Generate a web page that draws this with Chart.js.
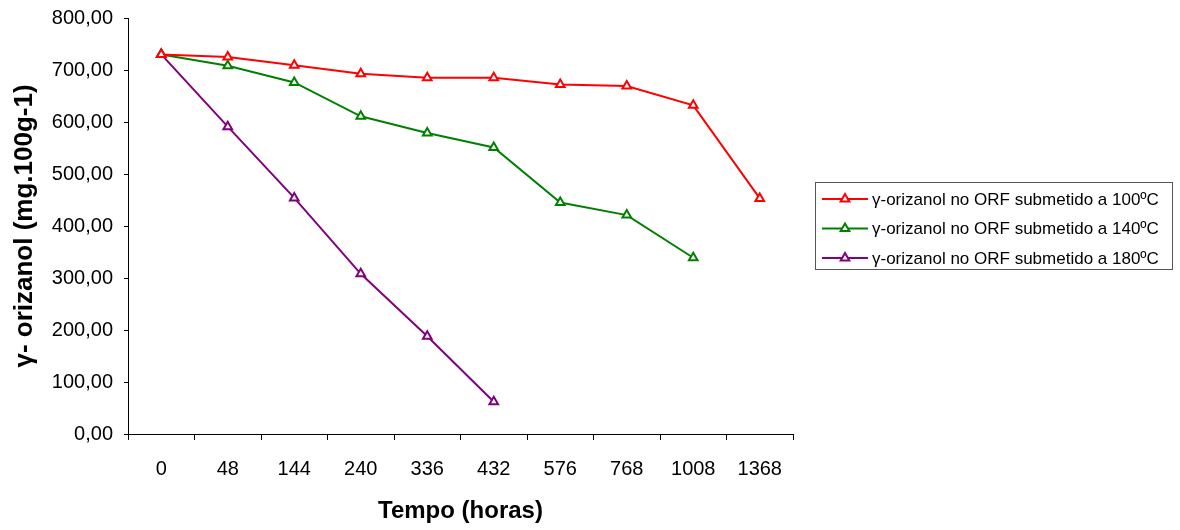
<!DOCTYPE html>
<html>
<head>
<meta charset="utf-8">
<script src="https://cdn.jsdelivr.net/npm/chart.js@4"></script>
<style>
  body { margin: 0; background: #fff; }
</style>
</head>
<body>
<canvas id="chart" width="1180" height="530"></canvas>
<script>
'use strict';
// hours
let categories = ['0', '48', '144', '240', '336', '432', '576', '768', '1008', '1368'];
let temp100 = [730, 725, 709, 693, 685, 685, 672, 669, 632, 453];
let temp140 = [730, 708, 676, 611, 579, 551, 445, 421, 339];
let temp180 = [730, 591, 454, 308, 188, 62];
let seriesNames = [
  'γ-orizanol no ORF submetido a 100ºC',
  'γ-orizanol no ORF submetido a 140ºC',
  'γ-orizanol no ORF submetido a 180ºC'
];
let seriesColors = ['#ff0000', '#008000', '#800080'];
let yTicks = [0, 100, 200, 300, 400, 500, 600, 700, 800];

const FONT = '"Liberation Sans", Arial, sans-serif';

function makeSet( i, values ) {
  return {
    label: seriesNames[i],
    data: values,
    borderColor: seriesColors[i],
    backgroundColor: '#ffffff',
    borderWidth: 2,
    pointStyle: 'triangle',
    pointRadius: 5,
    pointBorderWidth: 2,
    pointBackgroundColor: '#ffffff',
    pointBorderColor: seriesColors[i],
    tension: 0
  };
}

// legend box on the right, drawn by hand
const boxLegend = {
  id: 'boxLegend',
  afterDraw( chart ) {
    const ctx = chart.ctx;
    ctx.save();
    ctx.strokeStyle = '#555';
    ctx.lineWidth = 1;
    ctx.strokeRect( 815.5, 182.5, 357, 87 );
    ctx.font = '17px ' + FONT;
    ctx.textBaseline = 'middle';
    ctx.fillStyle = '#000';
    chart.data.datasets.forEach( ( ds, i ) => {
      let y = 199 + i * 29.5;
      ctx.strokeStyle = ds.borderColor;
      ctx.lineWidth = 2;
      ctx.beginPath();
      ctx.moveTo( 822, y );
      ctx.lineTo( 868, y );
      ctx.stroke();
      ctx.fillStyle = '#fff';
      Chart.helpers.drawPoint( ctx, { pointStyle: 'triangle', radius: 5, rotation: 0, borderWidth: 2 }, 845, y );
      ctx.fillStyle = '#000';
      ctx.fillText( ds.label, 872, y + 1 );
    } );
    ctx.restore();
  }
};

new Chart( document.getElementById( 'chart' ), {
  type: 'line',
  data: {
    labels: categories,
    datasets: [makeSet( 0, temp100 ), makeSet( 1, temp140 ), makeSet( 2, temp180 )]
  },
  options: {
    responsive: false,
    animation: false,
    layout: { padding: { top: 18, right: 387, bottom: 0, left: 0 } },
    plugins: {
      legend: { display: false },
      tooltip: { enabled: false }
    },
    scales: {
      x: {
        type: 'category',
        offset: true,
        grid: { offset: true, drawOnChartArea: false, drawTicks: true, tickLength: 6, color: '#000' },
        border: { color: '#000', width: 1 },
        ticks: { color: '#000', padding: 17, font: { family: FONT, size: 20 }, maxRotation: 0, autoSkip: false },
        title: {
          display: true,
          text: 'Tempo (horas)',
          color: '#000',
          font: { family: FONT, size: 24, weight: 'bold' },
          padding: { top: 0, bottom: 4 }
        },
        afterFit( scale ) {
          scale.height = 96;
          scale.paddingLeft = 0;
          scale.paddingRight = 0;
        }
      },
      y: {
        min: 0,
        max: 800,
        afterBuildTicks( scale ) { scale.ticks = yTicks.map( v => ( { value: v } ) ); },
        grid: { drawOnChartArea: false, drawTicks: true, tickLength: 4, color: '#000' },
        border: { color: '#000', width: 1 },
        ticks: {
          color: '#000',
          padding: 11,
          font: { family: FONT, size: 20 },
          callback: v => v.toFixed( 2 ).replace( '.', ',' )
        },
        title: {
          display: true,
          text: 'γ- orizanol (mg.100g-1)',
          color: '#000',
          font: { family: FONT, size: 26, weight: 'bold' },
          padding: { top: 9, bottom: 0 }
        },
        afterFit( scale ) {
          scale.width = 128;
          scale.paddingTop = 0;
          scale.paddingBottom = 0;
        }
      }
    }
  },
  plugins: [boxLegend]
} );
</script>
</body>
</html>
